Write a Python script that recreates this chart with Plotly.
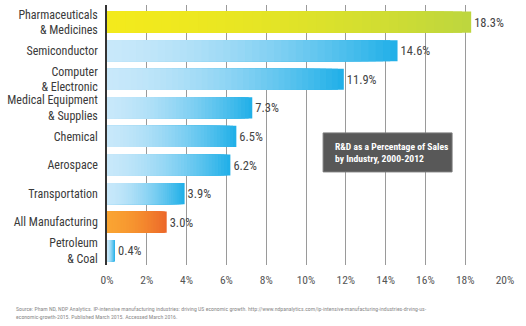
import plotly.graph_objects as go

categories = ["Pharmaceuticals<br>& Medicines", "Semiconductor", "Computer<br>& Electronic",
              "Medical Equipment<br>& Supplies", "Chemical", "Aerospace", "Transportation",
              "All Manufacturing", "Petroleum<br>& Coal"]
values = [18.3, 14.6, 11.9, 7.3, 6.5, 6.2, 3.9, 3.0, 0.4]
groups = ["pharma", "blue", "blue", "blue", "blue", "blue", "blue", "all", "blue"]
tick_vals = [0, 2, 4, 6, 8, 10, 12, 14, 16, 18, 20]
tick_text = [f"{v}%" for v in tick_vals]

title_text = "R&D as a Percentage of Sales<br>by Industry, 2000-2012"
source_text = ("Source: Pham ND, NDP Analytics. IP-intensive manufacturing industries: driving US economic growth. "
               "http://www.ndpanalytics.com/ip-intensive-manufacturing-industries-drving-us-<br>"
               "economic-growth-2015. Published March 2015. Accessed March 2016.")

palettes = {
    "blue": ((200, 232, 250), (34, 176, 232)),
    "pharma": ((243, 234, 28), (190, 214, 62)),
    "all": ((250, 164, 50), (236, 104, 42)),
}

def mix(c0, c1, t):
    return "rgb(%d,%d,%d)" % tuple(round(a + (b - a) * t) for a, b in zip(c0, c1))

FONT = "Roboto Condensed, Liberation Sans Narrow, DejaVu Sans Condensed, Roboto, sans-serif"

fig = go.Figure()
N = 40
for k in range(N):
    f = 1 - k / N
    t = f ** 1.6
    cols = [mix(*palettes[g], t) for g in groups]
    tr = dict(
        x=[v * f for v in values], y=categories, orientation="h",
        marker=dict(color=cols, line=dict(width=0)),
        hoverinfo="skip", showlegend=False,
    )
    if k == 0:
        tr.update(text=[f"{v:.1f}%" for v in values], textposition="outside",
                  textfont=dict(color="#444444", size=12.5, family=FONT), cliponaxis=False)
    fig.add_trace(go.Bar(**tr))

fig.update_layout(
    width=526, height=326,
    margin=dict(l=107, r=21, t=5, b=61),
    barmode="overlay", bargap=0.26,
    plot_bgcolor="white", paper_bgcolor="white",
    font=dict(family=FONT, color="#444444"),
    xaxis=dict(range=[0, 20], tickvals=tick_vals, ticktext=tick_text, showgrid=True,
               gridcolor="#9a9a9a", gridwidth=1.2, zeroline=False, showline=False,
               tickfont=dict(size=11.5, color="#555555"), ticks="", ticklabelstandoff=6),
    yaxis=dict(categoryorder="array", categoryarray=categories, range=[8.5, -0.6],
               showgrid=False, zeroline=False, showline=True, linecolor="#333333", linewidth=1.5,
               tickfont=dict(size=12, color="#3a3a3a"), ticks="", ticklabelstandoff=5),
)

fig.add_shape(type="rect", xref="paper", yref="paper", x0=0.543, x1=0.867, y0=0.358, y1=0.508,
              fillcolor="#585858", line=dict(color="#7a7a7a", width=1), layer="above")
fig.add_annotation(xref="paper", yref="paper", x=0.568, y=0.433, xanchor="left", yanchor="middle",
                   text="<b>" + title_text + "</b>", showarrow=False, align="left",
                   font=dict(color="white", size=9.6, family=FONT))
fig.add_annotation(xref="paper", yref="paper", x=-0.234, y=-0.15, xanchor="left", yanchor="top",
                   text=source_text, showarrow=False, align="left",
                   font=dict(color="#8a8a8a", size=5.8, family=FONT))

fig.write_html("out.html")
